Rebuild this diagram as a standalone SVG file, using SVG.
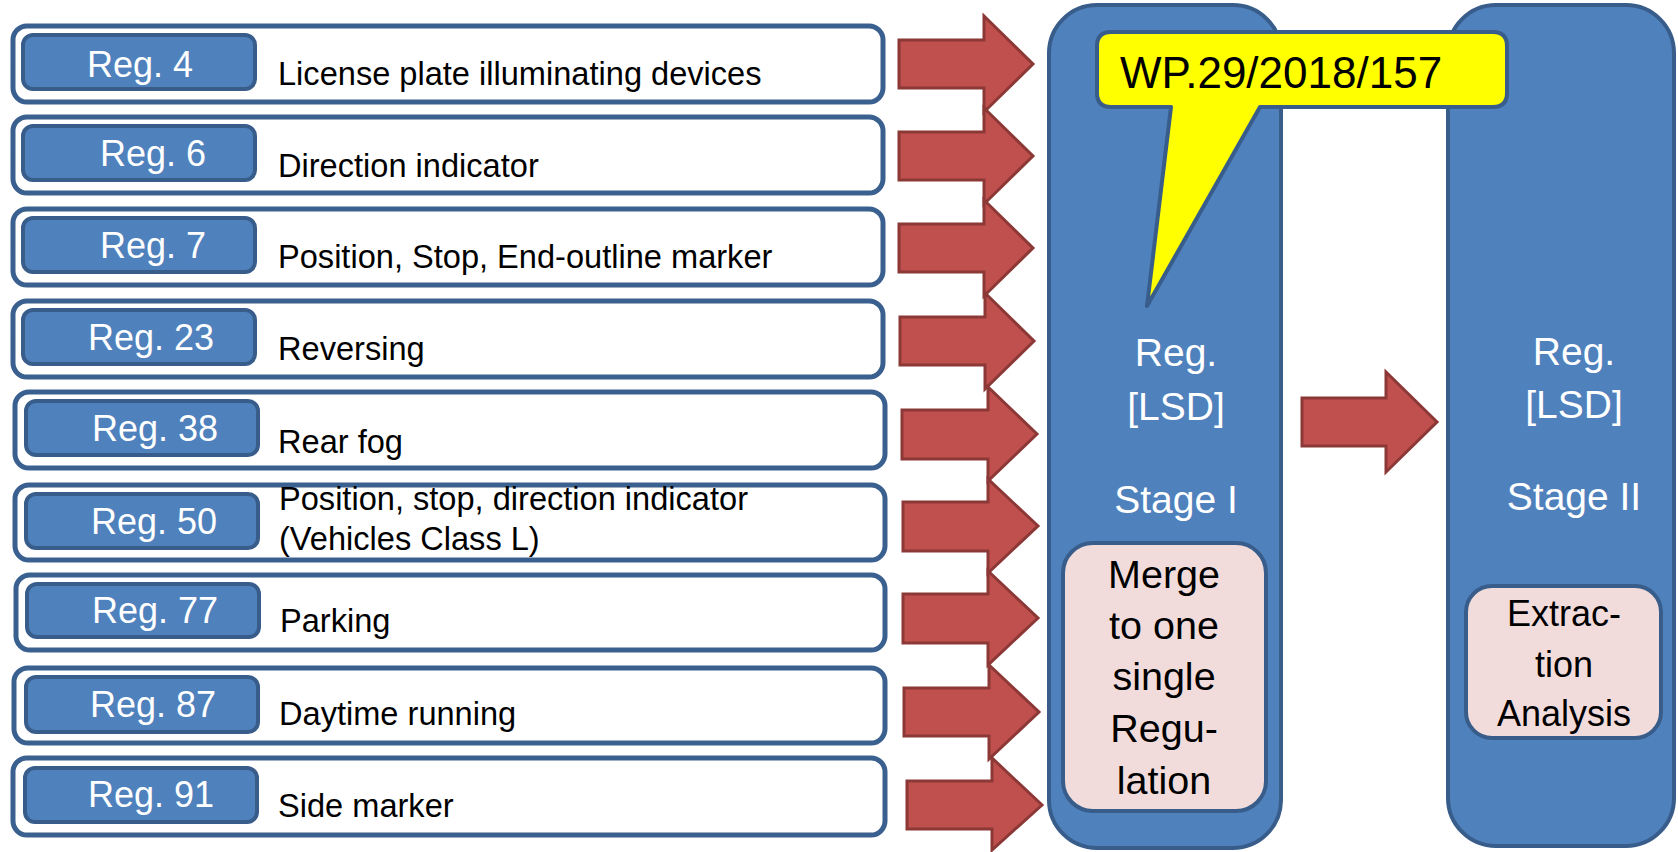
<svg xmlns="http://www.w3.org/2000/svg" width="1678" height="852" viewBox="0 0 1678 852">
<style>
text{font-family:"Liberation Sans",Arial,sans-serif}
.row{fill:#ffffff;stroke:#3A6090;stroke-width:5}
.reg{fill:#4F81BD;stroke:#385D8A;stroke-width:4}
.regt{fill:#ffffff;font-size:36px}
.desc{fill:#000000;font-size:32.6px}
.col{fill:#4F81BD;stroke:#385D8A;stroke-width:4}
.colt{fill:#ffffff;font-size:39px;text-anchor:middle}
.pink{fill:#F2DCDB;stroke:#385D8A;stroke-width:4}
.pt1{fill:#000000;font-size:39.5px;text-anchor:middle}
.pt2{fill:#000000;font-size:36px;text-anchor:middle}
.arr{fill:#C0504D;stroke:#8C3836;stroke-width:3;stroke-linejoin:miter}
.call{fill:#FFFF00;stroke:#385D8A;stroke-width:4;stroke-linejoin:round}
.callt{fill:#000000;font-size:44px}
</style>
<rect width="1678" height="852" fill="#ffffff"/>

<g id="row1"><rect class="row" x="13" y="26" width="870" height="76" rx="14"/><rect class="reg" x="23" y="35" width="232" height="54" rx="10"/><text class="regt" x="87" y="77">Reg. 4</text><text class="desc" x="278" y="85">License plate illuminating devices</text></g>
<g id="row2"><rect class="row" x="13" y="117" width="870" height="76" rx="14"/><rect class="reg" x="23" y="126" width="232" height="54" rx="10"/><text class="regt" x="100" y="166">Reg. 6</text><text class="desc" x="278" y="177">Direction indicator</text></g>
<g id="row3"><rect class="row" x="13" y="209" width="870" height="76" rx="14"/><rect class="reg" x="23" y="218" width="232" height="54" rx="10"/><text class="regt" x="100" y="258">Reg. 7</text><text class="desc" x="278" y="268">Position, Stop, End-outline marker</text></g>
<g id="row4"><rect class="row" x="13" y="301" width="870" height="76" rx="14"/><rect class="reg" x="23" y="310" width="232" height="54" rx="10"/><text class="regt" x="88" y="350">Reg. 23</text><text class="desc" x="278" y="360">Reversing</text></g>
<g id="row5"><rect class="row" x="15" y="392" width="870" height="76" rx="14"/><rect class="reg" x="26" y="401" width="232" height="54" rx="10"/><text class="regt" x="92" y="441">Reg. 38</text><text class="desc" x="278" y="453">Rear fog</text></g>
<g id="row6"><rect class="row" x="15" y="485" width="870" height="75" rx="14"/><rect class="reg" x="26" y="494" width="232" height="54" rx="10"/><text class="regt" x="91" y="534">Reg. 50</text><text class="desc" x="279" y="510">Position, stop, direction indicator</text><text class="desc" x="279" y="550">(Vehicles Class L)</text></g>
<g id="row7"><rect class="row" x="16" y="575" width="869" height="75" rx="14"/><rect class="reg" x="27" y="584" width="232" height="53" rx="10"/><text class="regt" x="92" y="623">Reg. 77</text><text class="desc" x="280" y="632">Parking</text></g>
<g id="row8"><rect class="row" x="14" y="668" width="871" height="75" rx="14"/><rect class="reg" x="26" y="677" width="232" height="55" rx="10"/><text class="regt" x="90" y="717">Reg. 87</text><text class="desc" x="279" y="725">Daytime running</text></g>
<g id="row9"><rect class="row" x="13" y="758" width="872" height="77" rx="14"/><rect class="reg" x="25" y="768" width="232" height="54" rx="10"/><text class="regt" x="88" y="807">Reg. 91</text><text class="desc" x="278" y="817">Side marker</text></g>

<g id="stage1"><rect class="col" x="1049" y="5" width="232" height="843" rx="48"/>
<text class="colt" x="1176" y="366">Reg.</text><text class="colt" x="1176" y="420">[LSD]</text><text class="colt" x="1176" y="513">Stage I</text>
<rect class="pink" x="1063" y="543" width="203" height="268" rx="30"/>
<text class="pt1" x="1164" y="588">Merge</text><text class="pt1" x="1164" y="639">to one</text><text class="pt1" x="1164" y="690">single</text><text class="pt1" x="1164" y="742">Regu-</text><text class="pt1" x="1164" y="794">lation</text></g>

<g id="stage2"><rect class="col" x="1448" y="5" width="226" height="841" rx="48"/>
<text class="colt" x="1574" y="365">Reg.</text><text class="colt" x="1574" y="418">[LSD]</text><text class="colt" x="1574" y="510">Stage II</text>
<rect class="pink" x="1466" y="586" width="195" height="152" rx="26"/>
<text class="pt2" x="1564" y="626">Extrac-</text><text class="pt2" x="1564" y="677">tion</text><text class="pt2" x="1564" y="726">Analysis</text></g>

<g id="connectors">
<path class="arr" d="M899,40 H984 V16 L1033,64 L984,112 V88 H899 Z"/>
<path class="arr" d="M899,132 H984 V108 L1033,156 L984,204 V180 H899 Z"/>
<path class="arr" d="M899,224 H984 V200 L1033,248 L984,296 V272 H899 Z"/>
<path class="arr" d="M900,317 H985 V293 L1034,341 L985,389 V365 H900 Z"/>
<path class="arr" d="M902,410 H988 V387 L1037,434 L988,481 V459 H902 Z"/>
<path class="arr" d="M903,502 H988 V479 L1038,526 L988,573 V551 H903 Z"/>
<path class="arr" d="M903,594 H988 V571 L1038,618 L988,665 V643 H903 Z"/>
<path class="arr" d="M904,688 H989 V665 L1039,712 L989,759 V736 H904 Z"/>
<path class="arr" d="M907,781 H992 V758 L1042,805 L992,850 V829 H907 Z"/>
<path class="arr" d="M1302,398 H1386 V372 L1437,422 L1386,472 V446 H1302 Z"/>
</g>

<g id="callout"><path class="call" d="M1111,32 H1493 Q1507,32 1507,46 V93 Q1507,107 1493,107 H1260 L1147,306 L1171,107 H1111 Q1097,107 1097,93 V46 Q1097,32 1111,32 Z"/>
<text class="callt" x="1120" y="88">WP.29/2018/157</text></g>
</svg>
